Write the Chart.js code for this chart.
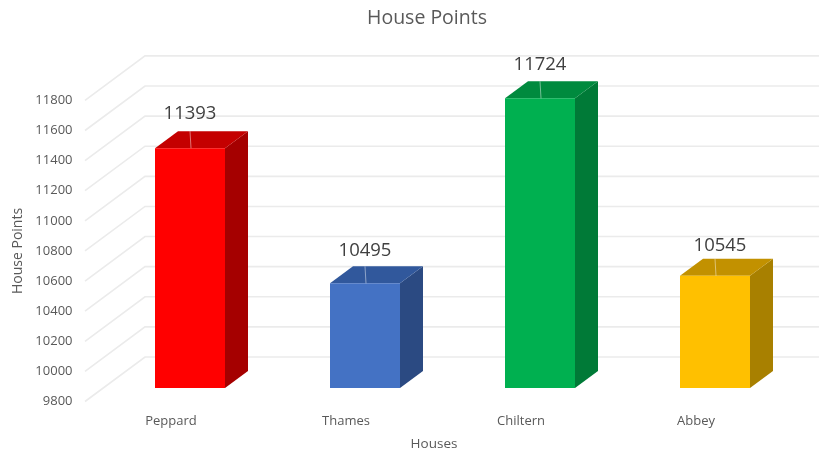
<!DOCTYPE html>
<html>
<head>
<meta charset="utf-8">
<title>House Points</title>
<script src="https://cdn.jsdelivr.net/npm/chart.js@4/dist/chart.umd.min.js"></script>
<style>
  body { margin: 0; background: #fff; }
  canvas { display: block; }
</style>
</head>
<body>
<canvas id="houseChart" width="819" height="452"></canvas>
<script>
const houses = ['Peppard', 'Thames', 'Chiltern', 'Abbey'];
const points = [11393, 10495, 11724, 10545];

const frontColors = ['#ff0000', '#4472c4', '#00b050', '#ffc000'];
const sideColors = ['#a50000', '#2b4a82', '#007a37', '#a88000'];
const topColors = ['#c40000', '#31589c', '#008a3e', '#c29100'];

const fontName = '"Open Sans", sans-serif';
const textColor = '#595959';

// how far the 3d look pushes things
const barLift = 13.5;
const depthX = 23;
const depthY = 17;
const wallX = 60;
const wallY = 44.5;

const fake3d = {
  id: 'fake3d',
  beforeDraw(chart) {
    // axis boxes are narrower than the original spacing, let labels and titles sit outside them
    chart.scales.y.left = 0;
    chart.scales.x.left = 65.5;
  },
  beforeDatasetsDraw(chart) {
    const ctx = chart.ctx;
    const yScale = chart.scales.y;
    const left = 85;

    // side wall and back wall lines
    ctx.save();
    ctx.strokeStyle = '#ebebeb';
    ctx.lineWidth = 1.6;
    yScale.ticks.forEach((t) => {
      const y = yScale.getPixelForValue(t.value);
      ctx.beginPath();
      ctx.moveTo(left, y);
      ctx.lineTo(left + wallX, y - wallY);
      ctx.lineTo(chart.width, y - wallY);
      ctx.stroke();
    });
    ctx.restore();

    // side and top faces of each bar
    const bars = chart.getDatasetMeta(0).data;
    bars.forEach((bar, i) => {
      const x1 = bar.x - bar.width / 2;
      const x2 = bar.x + bar.width / 2;
      const top = bar.y - barLift;
      const base = bar.base - barLift;

      ctx.fillStyle = sideColors[i];
      ctx.beginPath();
      ctx.moveTo(x2, top);
      ctx.lineTo(x2 + depthX, top - depthY);
      ctx.lineTo(x2 + depthX, base - depthY);
      ctx.lineTo(x2, base);
      ctx.closePath();
      ctx.fill();

      ctx.fillStyle = topColors[i];
      ctx.beginPath();
      ctx.moveTo(x1, top);
      ctx.lineTo(x1 + depthX, top - depthY);
      ctx.lineTo(x2 + depthX, top - depthY);
      ctx.lineTo(x2, top);
      ctx.closePath();
      ctx.fill();
    });

    // bars themselves sit in front of the floor line, lift them
    ctx.save();
    ctx.translate(0, -barLift);
  },
  afterDatasetsDraw(chart) {
    const ctx = chart.ctx;
    ctx.restore();

    // the value labels are not quite level in the original
    const nudgeX = [0, 0, 0, 5];
    const nudgeY = [0, 1, 0, 4];

    const bars = chart.getDatasetMeta(0).data;
    bars.forEach((bar, i) => {
      const top = bar.y - barLift;

      // little leader line from the label to the bar
      ctx.save();
      ctx.strokeStyle = 'rgba(255,255,255,0.45)';
      ctx.lineWidth = 1;
      ctx.beginPath();
      ctx.moveTo(bar.x, top - depthY);
      ctx.lineTo(bar.x + 1, top);
      ctx.stroke();
      ctx.restore();

      ctx.fillStyle = '#404040';
      ctx.font = '18.5px ' + fontName;
      ctx.textAlign = 'center';
      ctx.textBaseline = 'middle';
      ctx.fillText(String(points[i]), bar.x + nudgeX[i], top - 34 + nudgeY[i]);
    });
  }
};

new Chart(document.getElementById('houseChart'), {
  type: 'bar',
  data: {
    labels: houses,
    datasets: [{
      label: 'House Points',
      data: points,
      base: 9800,
      backgroundColor: frontColors,
      barPercentage: 0.4,
      categoryPercentage: 1
    }]
  },
  options: {
    responsive: false,
    animation: false,
    layout: { padding: { left: 51.5, right: 16.5 } },
    plugins: {
      legend: { display: false },
      tooltip: { enabled: false },
      title: {
        display: true,
        text: 'House Points',
        color: textColor,
        font: { family: fontName, size: 19.5, weight: 'normal' },
        padding: { top: 7, bottom: 70 }
      }
    },
    scales: {
      x: {
        grid: { display: false },
        border: { display: false },
        title: {
          display: true,
          text: 'Houses',
          color: textColor,
          font: { family: fontName, size: 13.5 },
          padding: { top: 0, bottom: 0 }
        },
        ticks: {
          color: textColor,
          font: { family: fontName, size: 13 },
          labelOffset: -19,
          padding: 4,
          maxRotation: 0
        },
        afterFit(scale) { scale.height = 50.5; }
      },
      y: {
        min: 9800,
        max: 11800,
        grid: { display: false },
        border: { display: false },
        title: {
          display: true,
          text: 'House Points',
          color: textColor,
          font: { family: fontName, size: 14 },
          padding: { top: 10, bottom: 0 }
        },
        ticks: {
          stepSize: 200,
          color: textColor,
          font: { family: fontName, size: 13 },
          format: { useGrouping: false },
          padding: 22
        },
        afterFit(scale) { scale.width = 51; }
      }
    }
  },
  plugins: [fake3d]
});
</script>
</body>
</html>
